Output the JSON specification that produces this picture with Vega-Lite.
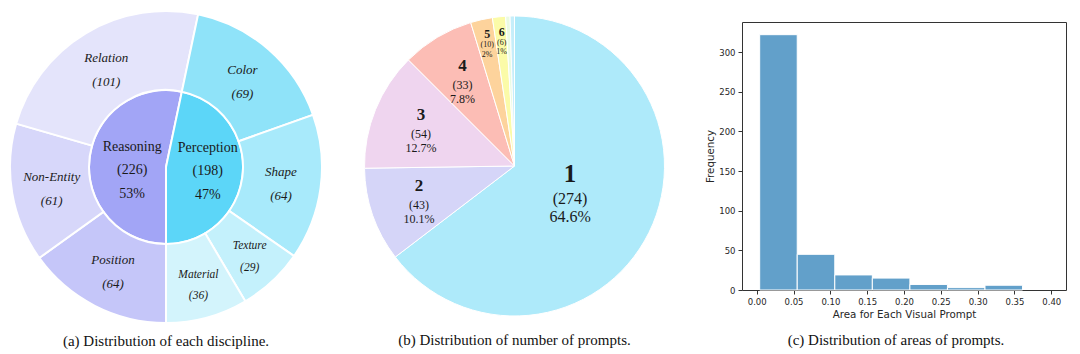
{
  "$schema": "https://vega.github.io/schema/vega-lite/v6.json",
  "background": "white",
  "padding": {"left": 6, "top": 7, "right": 5, "bottom": 2},
  "bounds": "flush",
  "spacing": 20,
  "resolve": {"scale": {"color": "independent", "theta": "independent"}},
  "config": {"text": {"font": "Liberation Serif"}},
  "datasets": {
    "inner": [
      {"name": "Reasoning", "count": 226, "ord": 1, "label": "Reasoning\n(226)\n53%"},
      {"name": "Perception", "count": 198, "ord": 2, "label": "Perception\n(198)\n47%"}
    ],
    "outer": [
      {"name": "Position", "count": 64, "ord": 1, "label": "Position\n(64)"},
      {"name": "Non-Entity", "count": 61, "ord": 2, "label": "Non-Entity\n(61)"},
      {"name": "Relation", "count": 101, "ord": 3, "label": "Relation\n(101)"},
      {"name": "Color", "count": 69, "ord": 4, "label": "Color\n(69)"},
      {"name": "Shape", "count": 64, "ord": 5, "label": "Shape\n(64)"},
      {"name": "Texture", "count": 29, "ord": 6, "label": "Texture\n(29)"},
      {"name": "Material", "count": 36, "ord": 7, "label": "Material\n(36)"}
    ],
    "prompts": [
      {"n": 1, "count": 274, "num": "1", "lab": "(274)\n64.6%"},
      {"n": 2, "count": 43, "num": "2", "lab": "(43)\n10.1%"},
      {"n": 3, "count": 54, "num": "3", "lab": "(54)\n12.7%"},
      {"n": 4, "count": 33, "num": "4", "lab": "(33)\n7.8%"},
      {"n": 5, "count": 10, "num": "5", "lab": "(10)\n2%"},
      {"n": 6, "count": 6, "num": "6", "lab": "(6)\n1%"},
      {"n": 7, "count": 2, "num": "7", "lab": ""},
      {"n": 8, "count": 2, "num": "8", "lab": ""}
    ],
    "hist": [
      {"x0": 0.004, "x1": 0.055, "freq": 322},
      {"x0": 0.055, "x1": 0.106, "freq": 45},
      {"x0": 0.106, "x1": 0.157, "freq": 19},
      {"x0": 0.157, "x1": 0.208, "freq": 15},
      {"x0": 0.208, "x1": 0.259, "freq": 7},
      {"x0": 0.259, "x1": 0.310, "freq": 3},
      {"x0": 0.310, "x1": 0.361, "freq": 6}
    ]
  },
  "hconcat": [
    {
      "width": 242,
      "height": 290,
      "view": {"stroke": null},
      "title": {"text": "(a) Distribution of each discipline.", "orient": "bottom", "frame": "group", "anchor": "middle", "offset": 7, "font": "Liberation Serif", "fontSize": 15, "fontWeight": "normal", "color": "#111111"},
      "encoding": {
        "theta": {"field": "count", "type": "quantitative", "stack": true, "scale": {"range": [3.141592653589793, 9.42477796076938]}},
        "order": {"field": "ord", "type": "quantitative"},
        "color": {
          "field": "name", "type": "nominal", "legend": null,
          "scale": {
            "domain": ["Reasoning", "Perception", "Position", "Non-Entity", "Relation", "Color", "Shape", "Texture", "Material"],
            "range": ["#a2a5f6", "#5cd6f8", "#c5c6f9", "#d7d7fa", "#e4e4fb", "#8fe3f9", "#a8eafb", "#c4f1fc", "#d3f4fc"]
          }
        }
      },
      "layer": [
        {"data": {"name": "inner"}, "mark": {"type": "arc", "outerRadius": 77, "innerRadius": 0, "stroke": "white", "strokeWidth": 2}},
        {"data": {"name": "outer"}, "mark": {"type": "arc", "outerRadius": 156, "innerRadius": 77, "stroke": "white", "strokeWidth": 2}},
        {
          "data": {"name": "inner"},
          "mark": {"type": "text", "radius": 34, "dy": -16.5, "fontSize": 14, "lineHeight": 23.5, "lineBreak": "\n", "font": "Liberation Serif"},
          "encoding": {"text": {"field": "label", "condition": {"test": "datum.name !== 'Reasoning'", "value": ""}}, "color": {"value": "#1a1a1a"}, "detail": {"field": "name"}}
        },
        {
          "data": {"name": "inner"},
          "mark": {"type": "text", "radius": 42, "dy": -23.5, "fontSize": 14, "lineHeight": 23.5, "lineBreak": "\n", "font": "Liberation Serif"},
          "encoding": {"text": {"field": "label", "condition": {"test": "datum.name !== 'Perception'", "value": ""}}, "color": {"value": "#1a1a1a"}, "detail": {"field": "name"}}
        },
        {
          "data": {"name": "outer"},
          "mark": {"type": "text", "radius": 116, "dy": -10, "fontSize": 13, "fontStyle": "italic", "lineHeight": 24, "lineBreak": "\n", "font": "Liberation Serif"},
          "encoding": {"text": {"field": "label", "condition": {"test": "datum.count < 40", "value": ""}}, "color": {"value": "#1a1a1a"}, "detail": {"field": "name"}}
        },
        {
          "data": {"name": "outer"},
          "mark": {"type": "text", "radius": 123, "dy": -10.75, "fontSize": 11.5, "fontStyle": "italic", "lineHeight": 21.5, "lineBreak": "\n", "font": "Liberation Serif"},
          "encoding": {"text": {"field": "label", "condition": {"test": "datum.count >= 40", "value": ""}}, "color": {"value": "#1a1a1a"}, "detail": {"field": "name"}}
        }
      ]
    },
    {
      "width": 415,
      "height": 288,
      "view": {"stroke": null},
      "data": {"name": "prompts"},
      "title": {"text": "(b) Distribution of number of prompts.", "orient": "bottom", "frame": "group", "anchor": "middle", "offset": 15, "font": "Liberation Serif", "fontSize": 15, "fontWeight": "normal", "color": "#111111"},
      "encoding": {
        "theta": {"field": "count", "type": "quantitative", "stack": true},
        "order": {"field": "n", "type": "quantitative"},
        "detail": {"field": "num"}
      },
      "layer": [
        {
          "mark": {"type": "arc", "outerRadius": 150, "stroke": "white", "strokeWidth": 1},
          "encoding": {
            "color": {
              "field": "num", "type": "nominal", "legend": null,
              "scale": {"domain": ["1", "2", "3", "4", "5", "6", "7", "8"], "range": ["#aeeafa", "#d5d5f8", "#efd5ef", "#fcbdb5", "#fdd39c", "#fbfba8", "#eafbe2", "#c6eefa"]}
            }
          }
        },
        {
          "mark": {"type": "text", "radius": 62, "dy": -19, "fontSize": 25, "fontWeight": "bold", "color": "#1a1a1a", "font": "Liberation Serif"},
          "encoding": {"text": {"field": "num", "condition": {"test": "datum.n !== 1", "value": ""}}}
        },
        {
          "mark": {"type": "text", "radius": 62, "dy": 5.9, "fontSize": 16, "lineHeight": 17.7, "lineBreak": "\n", "color": "#1a1a1a", "font": "Liberation Serif"},
          "encoding": {"text": {"field": "lab", "condition": {"test": "datum.n !== 1", "value": ""}}}
        },
        {
          "mark": {"type": "text", "radius": 101, "dy": -13.5, "fontSize": 17, "fontWeight": "bold", "color": "#1a1a1a", "font": "Liberation Serif"},
          "encoding": {"text": {"field": "num", "condition": {"test": "datum.n < 2 || datum.n > 4", "value": ""}}}
        },
        {
          "mark": {"type": "text", "radius": 101, "dy": 5.5, "fontSize": 12, "lineHeight": 14.5, "lineBreak": "\n", "color": "#1a1a1a", "font": "Liberation Serif"},
          "encoding": {"text": {"field": "lab", "condition": {"test": "datum.n < 2 || datum.n > 4", "value": ""}}}
        },
        {
          "mark": {"type": "text", "radius": 124, "dy": -11, "fontSize": 12, "fontWeight": "bold", "color": "#1a1a1a", "font": "Liberation Serif"},
          "encoding": {"text": {"field": "num", "condition": {"test": "datum.n < 5 || datum.n > 6", "value": ""}}}
        },
        {
          "mark": {"type": "text", "radius": 124, "dy": 0, "fontSize": 8, "lineHeight": 9.5, "lineBreak": "\n", "color": "#1a1a1a", "font": "Liberation Serif"},
          "encoding": {"text": {"field": "lab", "condition": {"test": "datum.n < 5 || datum.n > 6", "value": ""}}}
        }
      ]
    },
    {
      "width": 324,
      "height": 268,
      "data": {"name": "hist"},
      "view": {"stroke": "#333333", "strokeWidth": 1},
      "title": {"text": "(c) Distribution of areas of prompts.", "orient": "bottom", "frame": "group", "anchor": "middle", "offset": 13, "dx": -8, "font": "Liberation Serif", "fontSize": 15, "fontWeight": "normal", "color": "#111111"},
      "mark": {"type": "rect", "fill": "#62a0ca", "stroke": "white", "strokeWidth": 1},
      "encoding": {
        "x": {
          "field": "x0", "type": "quantitative",
          "scale": {"domain": [-0.02, 0.42], "nice": false, "zero": false},
          "axis": {"title": "Area for Each Visual Prompt", "values": [0, 0.05, 0.1, 0.15, 0.2, 0.25, 0.3, 0.35, 0.4], "format": ".2f", "grid": false, "domain": false, "tickSize": 4, "tickColor": "#333333", "labelFont": "DejaVu Sans", "labelFontSize": 8.5, "labelColor": "#262626", "labelPadding": 3, "labelFlush": false, "titleFont": "DejaVu Sans", "titleFontSize": 10.3, "titleFontWeight": "normal", "titleColor": "#262626", "titlePadding": 4}
        },
        "x2": {"field": "x1"},
        "y": {
          "field": "freq", "type": "quantitative",
          "scale": {"domain": [0, 338], "nice": false},
          "axis": {"title": "Frequency", "values": [0, 50, 100, 150, 200, 250, 300], "grid": false, "domain": false, "tickSize": 4, "tickColor": "#333333", "labelFont": "DejaVu Sans", "labelFontSize": 8.5, "labelColor": "#262626", "labelPadding": 3, "labelFlush": false, "titleFont": "DejaVu Sans", "titleFontSize": 10.3, "titleFontWeight": "normal", "titleColor": "#262626", "titlePadding": 3}
        },
        "y2": {"datum": 0}
      }
    }
  ]
}
